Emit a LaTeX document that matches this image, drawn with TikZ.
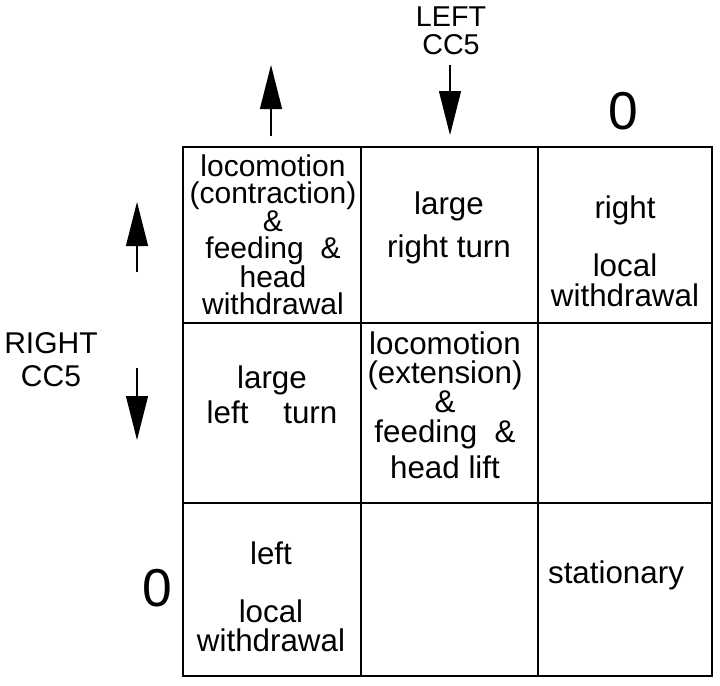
\documentclass[tikz,border=0pt]{standalone}
\usepackage{fontspec}
\setmainfont{Liberation Sans}
\usetikzlibrary{arrows.meta}

\begin{document}
\begin{tikzpicture}[x=0.75pt, y=-0.75pt,
    cell/.style={align=center, inner sep=0pt, font=\fontsize{23.5}{22}\selectfont},
    side/.style={align=center, inner sep=0pt, font=\fontsize{22}{20}\selectfont},
    zero/.style={inner sep=0pt, font=\fontsize{40}{40}\selectfont},
    motor/.style={-{Triangle[length=33pt, width=16.5pt]}, line width=0.9pt}]
    \useasboundingbox (0,0) rectangle (720,685);
    \draw[line width=1.5pt] (183,147) rectangle (712,676);
    \foreach \x in {361,538}
        \draw[line width=1.1pt] (\x,147) -- (\x,676);
    \foreach \y in {323,503}
        \draw[line width=1.1pt] (183,\y) -- (712,\y);
    \node[cell, font=\fontsize{22.5}{20}\selectfont] (contract) at (273,235)
        {locomotion\\(contraction)\\\&\\feeding\ \ \&\\head\\withdrawal};
    \node[cell] (rturn) at (449,228) {large\\[10pt]right\ turn};
    \node[cell] (rlocal) at (625,251) {right\\[22pt]local\\withdrawal};
    \node[cell] (lturn) at (272,395) {large\\[4pt]left\ \ \ \ turn};
    \node[cell] (extend) at (445,405)
        {locomotion\\(extension)\\\&\\feeding\ \ \&\\[5pt]head lift};
    \node[cell] (llocal) at (271,597) {left\\[21pt]local\\withdrawal};
    \node[cell] (still) at (616,575) {stationary};
    \node[side, font=\fontsize{21.5}{21}\selectfont] (leftcc) at (451,31) {LEFT\\CC5};
    \node[side, font=\fontsize{22.5}{25}\selectfont] (rightcc) at (51,360) {RIGHT\\CC5};
    \node[zero] (topzero) at (623,111) {0};
    \node[zero] (sidezero) at (157,588) {0};
    \coordinate (tup-a) at (271,136);
    \coordinate (tup-b) at (271,65);
    \coordinate (tdown-a) at (450,65);
    \coordinate (tdown-b) at (450,135);
    \coordinate (sup-a) at (137,272);
    \coordinate (sup-b) at (137,202);
    \coordinate (sdown-a) at (137,368);
    \coordinate (sdown-b) at (137,440);
    \foreach \a in {tup,tdown,sup,sdown}
        \draw[motor] (\a-a) -- (\a-b);
\end{tikzpicture}
\end{document}
